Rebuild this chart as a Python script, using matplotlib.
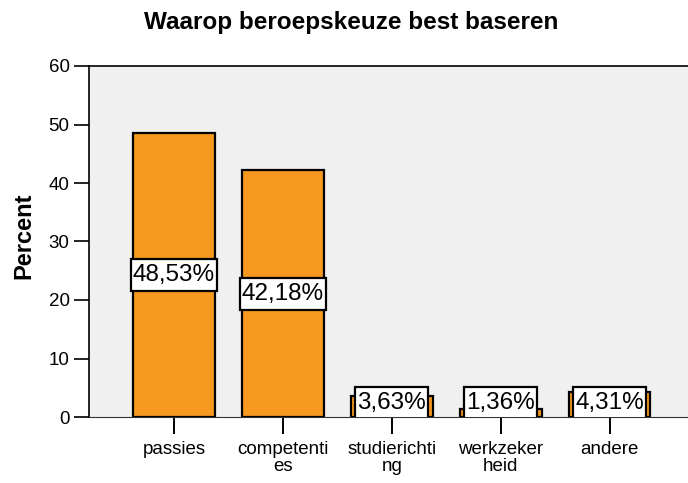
import matplotlib.pyplot as plt
from matplotlib.patches import Rectangle

plt.rcParams['font.family'] = ['Liberation Sans', 'DejaVu Sans']

categories = ["passies", "competenti\nes", "studierichti\nng", "werkzeker\nheid", "andere"]
percent = [48.53, 42.18, 3.63, 1.36, 4.31]
labels = ["48,53%", "42,18%", "3,63%", "1,36%", "4,31%"]

W, H = 688, 483
fig = plt.figure(figsize=(W / 100, H / 100), dpi=100)
ax = fig.add_axes([89 / W, (H - 417) / H, (688 - 89) / W, (417 - 66) / H])
ax.set_facecolor("#f0f0f0")

x = range(len(categories))
ax.bar(x, percent, width=0.75, color="#f7981f", edgecolor="black", linewidth=1.6, zorder=2)

ax.set_xlim(-0.78, 4.72)
ax.set_ylim(0, 60)
ax.set_yticks([0, 10, 20, 30, 40, 50, 60])
ax.set_xticks(list(x))
ax.set_xticklabels(categories, fontsize=13.5, linespacing=1.0)
ax.tick_params(axis="y", length=11, width=1.2, labelsize=13.5, pad=3)
ax.tick_params(axis="x", length=12, width=1.4, pad=5)

for s in ["left", "top"]:
    ax.spines[s].set_color("black")
    ax.spines[s].set_linewidth(1.2)
ax.spines["bottom"].set_color("#333333")
ax.spines["right"].set_visible(False)

ax.set_ylabel("Percent", fontsize=17, fontweight="bold")
ax.yaxis.set_label_coords(-0.09, 0.516)
fig.text(351 / W, 1 - 29 / H, "Waarop beroepskeuze best baseren", ha="center", va="baseline",
         fontsize=17.5, fontweight="bold")

# value labels in white boxes (box padded more vertically than horizontally)
texts = []
for i, (v, lab) in enumerate(zip(percent, labels)):
    y = max(v / 2, 2.4)
    texts.append(ax.text(i, y, lab, ha="center", va="center", fontsize=17.5, zorder=4))

fig.canvas.draw()
renderer = fig.canvas.get_renderer()
inv = ax.transData.inverted()
for t in texts:
    bb = t.get_window_extent(renderer)
    (x0, y0), (x1, y1) = inv.transform([(bb.x0 - 2, bb.y0 - 5), (bb.x1 + 2, bb.y1 + 5)])
    ax.add_patch(Rectangle((x0, y0), x1 - x0, y1 - y0, facecolor="white",
                           edgecolor="black", linewidth=1.6, zorder=3))

fig.savefig("out.png", dpi=100)
